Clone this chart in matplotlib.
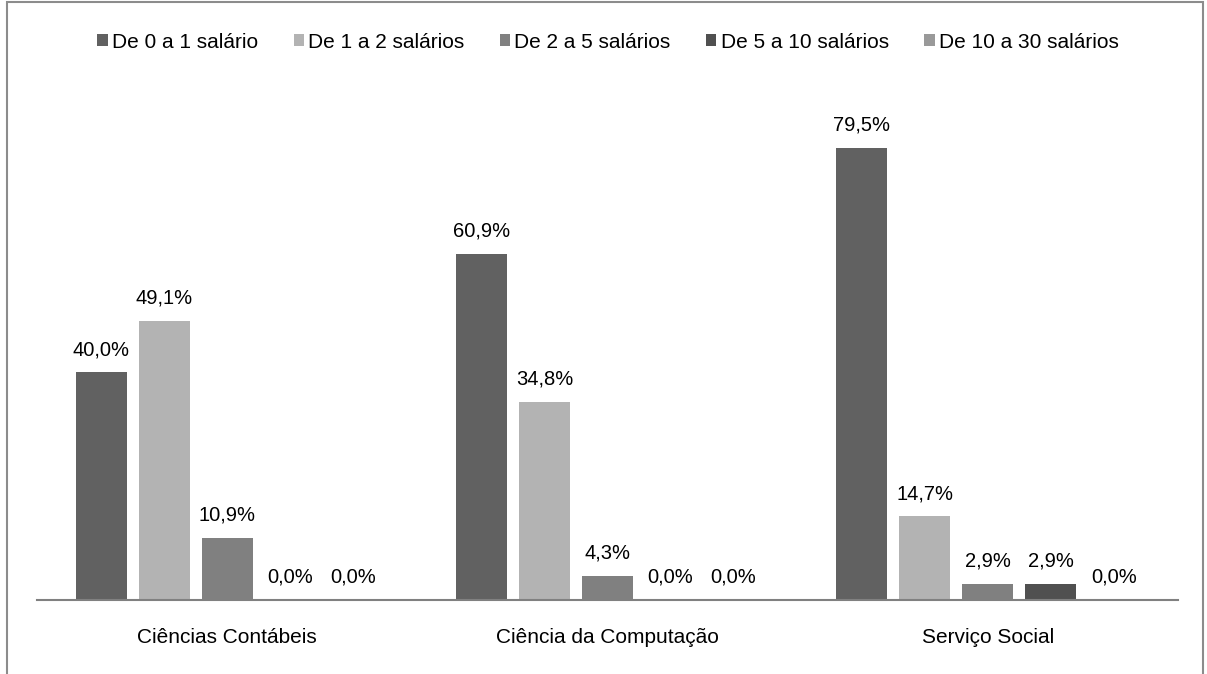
import matplotlib.pyplot as plt
from matplotlib.patches import Rectangle
import numpy as np

plt.rcParams['font.family'] = ['Liberation Sans', 'DejaVu Sans']

categories = ['Ciências Contábeis', 'Ciência da Computação', 'Serviço Social']
series = ['De 0 a 1 salário', 'De 1 a 2 salários', 'De 2 a 5 salários',
          'De 5 a 10 salários', 'De 10 a 30 salários']
values = [
    [40.0, 60.9, 79.5],
    [49.1, 34.8, 14.7],
    [10.9, 4.3, 2.9],
    [0.0, 0.0, 2.9],
    [0.0, 0.0, 0.0],
]
colors = ['#616161', '#b3b3b3', '#808080', '#505050', '#999999']

W, H = 1207, 674
fig = plt.figure(figsize=(W / 100, H / 100), dpi=100)
ax = fig.add_axes([37 / W, (H - 600) / H, 1141 / W, 512 / H])

x = np.arange(len(categories))
step = 63 / 380
width = 51 / 380
for i, (name, vals) in enumerate(zip(series, values)):
    pos = x + (i - 2) * step
    ax.bar(pos, vals, width, color=colors[i], label=name)
    for xp, v in zip(pos, vals):
        ax.text(xp, v + 2.3, f'{v:.1f}%'.replace('.', ','), ha='center',
                va='bottom', fontsize=14.5, color='#000000')

ax.set_xlim(-0.5, 2.5)
ax.set_ylim(0, 90)
ax.set_xticks(x)
ax.set_xticklabels(categories, fontsize=15)
ax.tick_params(axis='x', length=0, pad=20)
ax.set_yticks([])
for s in ['top', 'right', 'left']:
    ax.spines[s].set_visible(False)
ax.spines['bottom'].set_color('#808080')
ax.spines['bottom'].set_linewidth(1.5)

leg = fig.legend(loc='center', bbox_to_anchor=(608 / W, 1 - 42 / H), ncol=5,
                 frameon=False, fontsize=15, handlelength=0.5, handleheight=0.5,
                 handletextpad=0.2, columnspacing=1.7)

fig.patches.append(Rectangle((7 / W, -0.05), 1196 / W, 1.05 - 2 / H,
                             transform=fig.transFigure, fill=False,
                             edgecolor='#8c8c8c', linewidth=1.5))

fig.savefig('out.png', dpi=100)
